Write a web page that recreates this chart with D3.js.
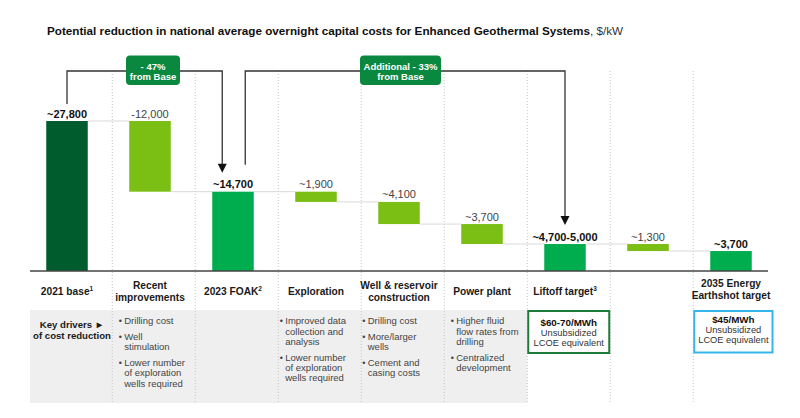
<!DOCTYPE html>
<html><head><meta charset="utf-8">
<script src="https://cdn.jsdelivr.net/npm/d3@7"></script>
<style>
html,body{margin:0;padding:0;background:#fff;}
svg{display:block;font-family:"Liberation Sans",Arial,sans-serif;}
</style></head>
<body>
<svg id="chart" width="800" height="418"></svg>
<script>
// ---------- data ----------
const categories = ["2021 base","Recent improvements","2023 FOAK","Exploration","Well & reservoir construction","Power plant","Liftoff target","Further reduction","2035 Energy Earthshot target"];
const barStart = [0, 27800, 0, 14700, 12800, 8700, 0, 5000, 0];
const barEnd   = [27800, 14700, 14700, 12800, 8700, 5000, 5000, 3700, 3700];
const barKind  = ["base","step","total","step","step","step","total","step","total"];
const valueLabels = ["~27,800","-12,000","~14,700","~1,900","~4,100","~3,700","~4,700-5,000","~1,300","~3,700"];
const headerLines = [
  [["2021 base","1"]],
  [["Recent",""],["improvements",""]],
  [["2023 FOAK","2"]],
  [["Exploration",""]],
  [["Well & reservoir",""],["construction",""]],
  [["Power plant",""]],
  [["Liftoff target","3"]],
  [],
  [["2035 Energy",""],["Earthshot target",""]]
];
const drivers = [
  [],
  [["Drilling cost"],["Well","stimulation"],["Lower number","of exploration","wells required"]],
  [],
  [["Improved data","collection and","analysis"],["Lower number","of exploration","wells required"]],
  [["Drilling cost"],["More/larger","wells"],["Cement and","casing costs"]],
  [["Higher fluid","flow rates from","drilling"],["Centralized","development"]],
  [],[],[]
];
const targetBoxes = [
  {col:6, lines:["$60-70/MWh","Unsubsidized","LCOE equivalent"], kind:"liftoff"},
  {col:8, lines:["$45/MWh","Unsubsidized","LCOE equivalent"], kind:"earthshot"}
];
const callouts = [
  {from:0, to:2, lines:["- 47%","from Base"]},
  {from:2, to:6, lines:["Additional - 33%","from Base"]}
];
const titleBold = "Potential reduction in national average overnight capital costs for Enhanced Geothermal Systems";
const titleRest = ", $/kW";
const keyDriversLines = ["Key drivers \u25BA","of cost reduction"];

// ---------- layout ----------
const svg = d3.select("#chart");
const baseY = 271, topY = 121;
const x = d3.scaleBand().domain(categories).range([25.5, 772.5]).paddingInner(0.5).paddingOuter(0.25);
const y = d3.scaleLinear().domain([0, 27800]).range([baseY, topY]);
const bw = x.bandwidth();
const cx = i => x(categories[i]) + bw/2;
const colLeft = i => i === 0 ? 30 : x(categories[i]) - 17;
const colRight = i => x(categories[i]) + bw + 24.5;
const colors = {base:"#005C2C", step:"#7BBF14", total:"#00AD4E"};
const tableTop = 310, tableBottom = 403;

// grey panel
svg.append("rect").attr("x",30).attr("y",tableTop).attr("width",colRight(5)-30).attr("height",tableBottom-tableTop).attr("fill","#efefef");

// dividers
svg.append("g").selectAll("line").data(d3.range(8)).join("line")
  .attr("x1",i=>colRight(i)).attr("x2",i=>colRight(i))
  .attr("y1",71).attr("y2",tableBottom)
  .attr("stroke","#c4c4c4").attr("stroke-width",1).attr("stroke-dasharray","1,2");

// title
const title = svg.append("text").attr("x",47).attr("y",34.5).attr("font-size",11.7).attr("fill","#111");
title.append("tspan").attr("font-weight","bold").text(titleBold);
title.append("tspan").attr("fill","#333").text(titleRest);

// connectors
svg.append("g").selectAll("line").data(d3.range(8)).join("line")
  .attr("x1",i=>x(categories[i])+bw).attr("x2",i=>x(categories[i+1]))
  .attr("y1",i=>y(barEnd[i])).attr("y2",i=>y(barEnd[i]))
  .attr("stroke","#d9d9d9").attr("stroke-width",1);

// bars
svg.append("g").selectAll("rect").data(categories).join("rect")
  .attr("x",d=>x(d)).attr("width",bw)
  .attr("y",(d,i)=>y(Math.max(barStart[i],barEnd[i])))
  .attr("height",(d,i)=>Math.abs(y(barStart[i])-y(barEnd[i])))
  .attr("fill",(d,i)=>colors[barKind[i]]);

// axis baseline
svg.append("line").attr("x1",30).attr("x2",768).attr("y1",baseY).attr("y2",baseY).attr("stroke","#444").attr("stroke-width",1.5);

// value labels
svg.append("g").selectAll("text").data(valueLabels).join("text")
  .attr("x",(d,i)=>cx(i)).attr("y",(d,i)=>y(Math.max(barStart[i],barEnd[i]))-3.5)
  .attr("text-anchor","middle").attr("font-size",11)
  .attr("font-weight",(d,i)=>barKind[i]==="step"?"normal":"bold")
  .attr("fill",(d,i)=>barKind[i]==="step"?"#444":"#111")
  .text(d=>d);

// callout brackets
const bracketTop = 71;
const c1 = callouts[0], c2 = callouts[1];
const path1 = [[cx(c1.from), y(barEnd[c1.from])-17],[cx(c1.from),bracketTop],[x(categories[c1.to])+10,bracketTop],[x(categories[c1.to])+10,y(barEnd[c1.to])-27]];
const path2 = [[x(categories[c2.from])+33, y(barEnd[c2.from])-27],[x(categories[c2.from])+33,bracketTop],[cx(c2.to),bracketTop],[cx(c2.to),y(barEnd[c2.to])-27]];
const lineGen = d3.line();
[path1,path2].forEach(p=>{
  svg.append("path").attr("d",lineGen(p)).attr("fill","none").attr("stroke","#333").attr("stroke-width",1.3);
  const e = p[p.length-1];
  svg.append("path").attr("d",`M${e[0]-4.5},${e[1]-1}L${e[0]+4.5},${e[1]-1}L${e[0]},${e[1]+8}Z`).attr("fill","#111");
});
// callout boxes
const boxes = [{cxp:153, w:54},{cxp:400.5, w:81}];
callouts.forEach((c,k)=>{
  const b = boxes[k];
  svg.append("rect").attr("x",b.cxp-b.w/2).attr("y",55.5).attr("width",b.w).attr("height",29.5).attr("rx",4).attr("fill","#0B883F");
  c.lines.forEach((t,j)=>{
    svg.append("text").attr("x",b.cxp).attr("y",69.5+j*10.8).attr("text-anchor","middle")
      .attr("font-size",9.5).attr("font-weight","bold").attr("fill","#fff").text(t);
  });
});

// header labels
headerLines.forEach((lines,i)=>{
  const n = lines.length;
  const y0 = (i===8 ? 289.5 : 291.5) - (n-1)*12.3/2 + 3.6;
  lines.forEach((ln,j)=>{
    const t = svg.append("text").attr("x",cx(i)).attr("y",y0+j*12.3).attr("text-anchor","middle")
      .attr("font-size",10.2).attr("font-weight","bold").attr("fill","#1a1a1a");
    t.append("tspan").text(ln[0]);
    if (ln[1]) t.append("tspan").attr("font-size",6.5).attr("dy",-4).text(ln[1]);
  });
});

// key drivers
keyDriversLines.forEach((t,j)=>{
  svg.append("text").attr("x",72).attr("y",327.8+j*11).attr("text-anchor","middle")
    .attr("font-size",9.6).attr("font-weight","bold").attr("fill","#1a1a1a").text(t);
});

// bullets
const indent = {1:6.5, 3:1.5, 4:1, 5:6.5};
drivers.forEach((groups,i)=>{
  if (!groups.length) return;
  let yy = 324.3;
  const bx = colLeft(i) + indent[i];
  groups.forEach(g=>{
    svg.append("text").attr("x",bx).attr("y",yy).attr("font-size",9).attr("fill","#444").text("\u2022");
    g.forEach((t,j)=>{
      svg.append("text").attr("x",bx+5.5).attr("y",yy+j*10.4).attr("font-size",9.5).attr("fill","#444").text(t);
    });
    yy += (g.length-1)*10.4 + 15.5;
  });
});

// target boxes
targetBoxes.forEach(b=>{
  const l = colLeft(b.col)+1, r = b.kind==="liftoff" ? colRight(b.col)-1 : 772.5;
  const top = 311, bot = b.kind==="liftoff" ? 353 : 352.5;
  svg.append("rect").attr("x",l).attr("y",top).attr("width",r-l).attr("height",bot-top)
    .attr("fill","#fff").attr("stroke",b.kind==="liftoff"?"#1E7B3B":"#35B6EA").attr("stroke-width",2);
  const c = (l+r)/2;
  const y0 = b.kind==="liftoff" ? 325.5 : 322.5;
  b.lines.forEach((t,j)=>{
    svg.append("text").attr("x",c).attr("y",y0+j*10.2).attr("text-anchor","middle")
      .attr("font-size",j===0?9.8:9.3).attr("font-weight",j===0?"bold":"normal").attr("fill",j===0?"#111":"#333").text(t);
  });
});
</script>
</body></html>
